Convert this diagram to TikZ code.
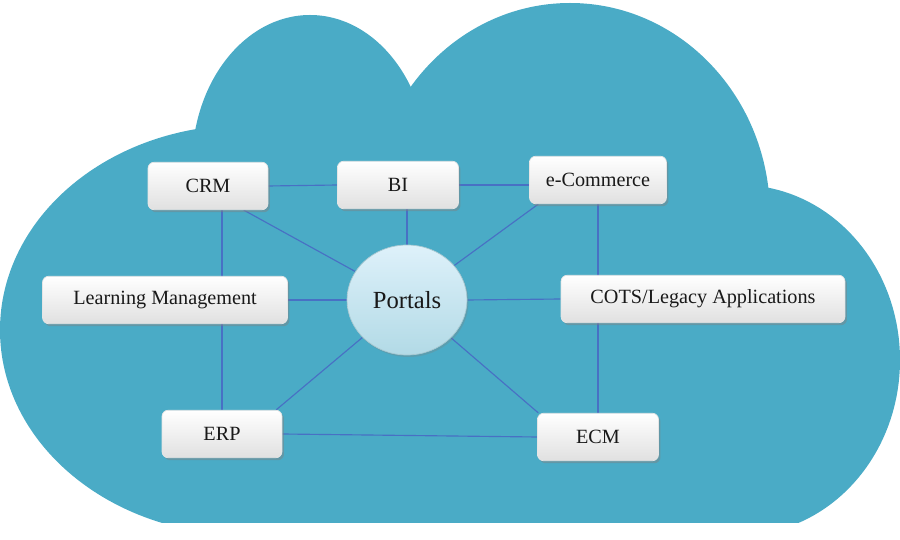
\documentclass[tikz,border=0pt]{standalone}
\usepackage{fontspec}
\setmainfont{Liberation Serif}
\usetikzlibrary{shapes.geometric,shadows,backgrounds}
\definecolor{cloudblue}{RGB}{74,171,198}
\definecolor{linkblue}{RGB}{72,112,196}
\definecolor{hubtop}{RGB}{222,241,250}
\definecolor{hubbottom}{RGB}{178,218,230}
\tikzset{
    box/.style={rectangle, rounded corners=3.5pt, draw=gray!20, top color=white,
        bottom color=gray!24, minimum height=0.95cm, text=black!90,
        font=\fontsize{11.5}{13}\selectfont,
        drop shadow={shadow xshift=0.04cm, shadow yshift=-0.05cm, opacity=0.45}},
    hub/.style={ellipse, draw=hubbottom!80!gray, top color=hubtop, bottom color=hubbottom,
        minimum width=2.4cm, minimum height=2.2cm, inner sep=0pt, text=black!90,
        font=\fontsize{14}{16}\selectfont,
        drop shadow={shadow xshift=0.03cm, shadow yshift=-0.04cm, opacity=0.3}},
    link/.style={draw=linkblue, line width=0.65pt}
}
\begin{document}
\begin{tikzpicture}[x=0.02cm,y=-0.02cm]
        \useasboundingbox (0,0) rectangle (900,540);
        %% Nodes
        \node[hub] (portals) at (407,300) {Portals};
        \node[box,minimum width=2.4cm] (crm) at (208,186) {CRM};
        \node[box,minimum width=2.42cm] (bi) at (398,185) {BI};
        \node[box,minimum width=2.74cm] (ecom) at (598,180) {e-Commerce};
        \node[box,minimum width=4.9cm] (lm) at (165,300) {Learning Management};
        \node[box,minimum width=5.68cm] (cots) at (703,299) {COTS/Legacy Applications};
        \node[box,minimum width=2.4cm] (erp) at (222,434) {ERP};
        \node[box,minimum width=2.42cm] (ecm) at (598,437) {ECM};
        \begin{scope}[on background layer]
            %% Cloud
            \clip (0,0) rectangle (900,523);
            \fill[cloudblue] (245,330) ellipse [x radius=245, y radius=205];
            \fill[cloudblue] (310,165) ellipse [x radius=118, y radius=150];
            \fill[cloudblue] (570,215) ellipse [x radius=200, y radius=212];
            \fill[cloudblue] (740,360) ellipse [x radius=160, y radius=175];
            \fill[cloudblue] (200,200) rectangle (765,523);
            %% Links
            \draw[link] (crm.east) -- (bi.west);
            \draw[link] (bi.east) -- (bi.east -| ecom.west);
            \draw[link] (crm.south -| erp.north) -- (erp.north);
            \draw[link] (ecom.south) -- (ecm.north);
            \draw[link] (erp.east) -- (ecm.west);
            \draw[link] (portals.north |- bi.south) -- (portals.north);
            \draw[link] (lm.east) -- (portals.west);
            \draw[link] (portals.east) -- (cots.west);
            \draw[link] (portals) -- (crm.-34);
            \draw[link] (portals) -- (ecom.-158);
            \draw[link] (portals) -- (erp.24);
            \draw[link] (portals) -- (ecm.158);
        \end{scope}
    \end{tikzpicture}
\end{document}
